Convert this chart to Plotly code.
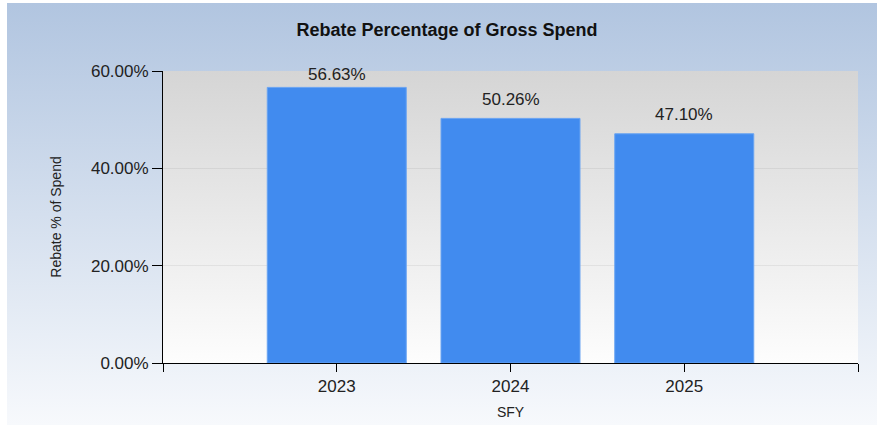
import base64
import plotly.graph_objects as go

# Data
years = ["2023", "2024", "2025"]
rebate_pct = [56.63, 50.26, 47.10]
y_ticks = [0, 20, 40, 60]
y_max = 60

W, H = 877, 425
ML, MR, MT, MB = 163, 19, 71, 62
PW, PH = W - ML - MR, H - MT - MB


def gradient_uri(top, bottom):
    svg = (
        '<svg xmlns="http://www.w3.org/2000/svg" width="10" height="100" '
        'viewBox="0 0 10 100" preserveAspectRatio="none">'
        '<defs><linearGradient id="g" x1="0" y1="0" x2="0" y2="1">'
        f'<stop offset="0" stop-color="{top}"/>'
        f'<stop offset="1" stop-color="{bottom}"/>'
        '</linearGradient></defs>'
        '<rect width="10" height="100" fill="url(#g)"/></svg>'
    )
    return "data:image/svg+xml;base64," + base64.b64encode(svg.encode()).decode()


FONT = "Liberation Sans, Arial, sans-serif"
LABEL_SIZE = 17
xs = list(range(len(years)))

fig = go.Figure()
fig.add_trace(
    go.Bar(
        x=xs,
        y=rebate_pct,
        width=0.8,
        marker=dict(color="#418bef", line=dict(color="#6aa4f2", width=1)),
        showlegend=False,
        hoverinfo="x+y",
    )
)

# value labels above bars (kept inside the top of the plot area like the original)
for xi, v in zip(xs, rebate_pct):
    room_px = (y_max - v) / y_max * PH
    gap = min(12, room_px - 10.5)
    fig.add_annotation(
        x=xi, y=v, xref="x", yref="y",
        text=f"{v:.2f}%", showarrow=False,
        yanchor="bottom", xanchor="center", yshift=gap - 4.5,
        font=dict(family=FONT, size=LABEL_SIZE, color="#222222"),
    )

# background images (paper gradient and plot-area gradient)
bg_x0, bg_y0 = 7, 3
fig.add_layout_image(
    source=gradient_uri("#b1c5e0", "#f7f9fc"),
    xref="paper", yref="paper",
    x=(bg_x0 - ML) / PW, y=(H - MB - bg_y0) / PH,
    sizex=(W - bg_x0) / PW, sizey=(H - bg_y0) / PH,
    xanchor="left", yanchor="top", sizing="stretch", layer="below",
)
fig.add_layout_image(
    source=gradient_uri("#d5d5d5", "#fdfdfd"),
    xref="paper", yref="paper", x=0, y=1, sizex=1, sizey=1,
    xanchor="left", yanchor="top", sizing="stretch", layer="below",
)

fig.update_layout(
    width=W, height=H,
    margin=dict(l=ML, r=MR, t=MT, b=MB, autoexpand=False),
    paper_bgcolor="white",
    plot_bgcolor="rgba(0,0,0,0)",
    font=dict(family=FONT, color="#222222"),
    title=dict(
        text="<b>Rebate Percentage of Gross Spend</b>",
        x=447 / W, xanchor="center", y=1 - 30 / H, yanchor="middle",
        font=dict(family=FONT, size=18, color="#111111"),
    ),
)

fig.update_xaxes(
    automargin=False,
    range=[-1, len(years)],
    tickmode="array",
    tickvals=[-1] + xs + [len(years)],
    ticktext=[""] + years + [""],
    showline=True, linecolor="black", linewidth=1,
    ticks="outside", ticklen=8, tickcolor="black",
    showgrid=False, zeroline=False,
    tickfont=dict(family=FONT, size=17, color="#222222"),
    title=dict(text="SFY", font=dict(family=FONT, size=14, color="#222222"), standoff=11),
)
fig.update_yaxes(
    automargin=False,
    range=[0, y_max],
    tickmode="array",
    tickvals=y_ticks,
    ticktext=[f"{v:.2f}%" for v in y_ticks],
    showline=True, linecolor="black", linewidth=1,
    ticks="outside", ticklen=10, tickcolor="black",
    showgrid=True, gridcolor="rgba(0,0,0,0.06)", gridwidth=1,
    zeroline=False,
    tickfont=dict(family=FONT, size=17, color="#222222"),
    title=dict(text="Rebate % of Spend", font=dict(family=FONT, size=14, color="#222222"), standoff=26),
)

fig.write_html("out.html")
